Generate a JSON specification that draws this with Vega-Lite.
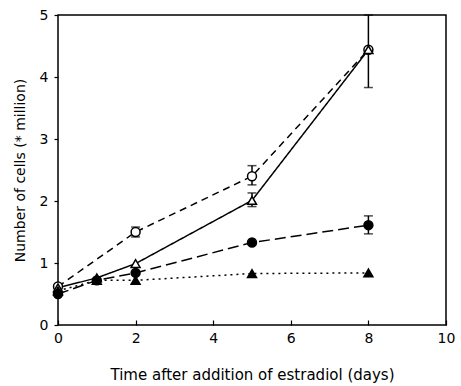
{
  "$schema": "https://vega.github.io/schema/vega-lite/v6.json",
  "width": 388,
  "height": 310,
  "autosize": {"type": "none"},
  "padding": {"left": 58, "top": 15, "right": 15, "bottom": 61},
  "background": "white",
  "config": {
    "view": {"stroke": "black", "strokeWidth": 1.5},
    "font": "DejaVu Sans",
    "axis": {
      "grid": false,
      "domain": false,
      "labelFont": "DejaVu Sans",
      "titleFont": "DejaVu Sans",
      "labelFontSize": 14,
      "titleFontSize": 14,
      "titleFontWeight": "normal",
      "labelColor": "black",
      "titleColor": "black",
      "tickColor": "black",
      "tickWidth": 1.2,
      "labelFlush": false,
      "format": "d"
    }
  },
  "datasets": {
    "pts": [
      {"series": "open circle", "t": 0, "v": 0.62},
      {"series": "open circle", "t": 2, "v": 1.5},
      {"series": "open circle", "t": 5, "v": 2.4},
      {"series": "open circle", "t": 8, "v": 4.44},
      {"series": "open triangle", "t": 0, "v": 0.6},
      {"series": "open triangle", "t": 1, "v": 0.76},
      {"series": "open triangle", "t": 2, "v": 0.99},
      {"series": "open triangle", "t": 5, "v": 2.01},
      {"series": "open triangle", "t": 8, "v": 4.44},
      {"series": "filled circle", "t": 0, "v": 0.5},
      {"series": "filled circle", "t": 1, "v": 0.72},
      {"series": "filled circle", "t": 2, "v": 0.84},
      {"series": "filled circle", "t": 5, "v": 1.33},
      {"series": "filled circle", "t": 8, "v": 1.61},
      {"series": "filled triangle", "t": 0, "v": 0.55},
      {"series": "filled triangle", "t": 1, "v": 0.72},
      {"series": "filled triangle", "t": 2, "v": 0.72},
      {"series": "filled triangle", "t": 5, "v": 0.83},
      {"series": "filled triangle", "t": 8, "v": 0.84}
    ],
    "errs": [
      {"t": 2, "lo": 1.42, "hi": 1.58},
      {"t": 5, "lo": 2.26, "hi": 2.57},
      {"t": 5, "lo": 1.91, "hi": 2.13},
      {"t": 8, "lo": 3.83, "hi": 5.0},
      {"t": 8, "lo": 1.47, "hi": 1.76}
    ]
  },
  "layer": [
    {
      "data": {"name": "pts"},
      "mark": {"type": "line", "color": "black", "strokeWidth": 1.5},
      "encoding": {
        "x": {"field": "t", "type": "quantitative", "scale": {"domain": [0, 10], "nice": false}, "axis": {"values": [0, 2, 4, 6, 8, 10], "tickSize": -5, "labelPadding": 11, "title": "Time after addition of estradiol (days)", "titlePadding": 22, "titleFontSize": 15}},
        "y": {"field": "v", "type": "quantitative", "scale": {"domain": [0, 5], "nice": false}, "axis": {"values": [0, 1, 2, 3, 4, 5], "tickSize": 4, "labelPadding": 6, "title": "Number of cells (* million)", "titlePadding": 12, "titleFontSize": 14}},
        "detail": {"field": "series"},
        "strokeDash": {"field": "series", "type": "nominal", "legend": null,
          "scale": {"domain": ["open circle", "open triangle", "filled circle", "filled triangle"], "range": [[7, 5], [1, 0], [11, 5], [2, 4]]}}
      }
    },
    {
      "data": {"name": "errs"},
      "mark": {"type": "rule", "color": "black", "strokeWidth": 1.5},
      "encoding": {
        "x": {"field": "t", "type": "quantitative"},
        "y": {"field": "lo", "type": "quantitative"},
        "y2": {"field": "hi"}
      }
    },
    {
      "data": {"name": "errs"},
      "mark": {"type": "tick", "orient": "horizontal", "color": "black", "size": 9, "thickness": 1.5},
      "encoding": {
        "x": {"field": "t", "type": "quantitative"},
        "y": {"field": "lo", "type": "quantitative"}
      }
    },
    {
      "data": {"name": "errs"},
      "mark": {"type": "tick", "orient": "horizontal", "color": "black", "size": 9, "thickness": 1.5},
      "encoding": {
        "x": {"field": "t", "type": "quantitative"},
        "y": {"field": "hi", "type": "quantitative"}
      }
    },
    {
      "data": {"name": "pts"},
      "mark": {"type": "point", "filled": true, "stroke": "black", "strokeWidth": 1.5, "opacity": 1},
      "encoding": {
        "x": {"field": "t", "type": "quantitative"},
        "y": {"field": "v", "type": "quantitative"},
        "shape": {"field": "series", "type": "nominal", "legend": null,
          "scale": {"domain": ["open circle", "open triangle", "filled circle", "filled triangle"], "range": ["circle", "triangle-up", "circle", "triangle-up"]}},
        "fill": {"field": "series", "type": "nominal", "legend": null,
          "scale": {"domain": ["open circle", "open triangle", "filled circle", "filled triangle"], "range": ["white", "white", "black", "black"]}},
        "size": {"value": 80}
      }
    }
  ]
}
